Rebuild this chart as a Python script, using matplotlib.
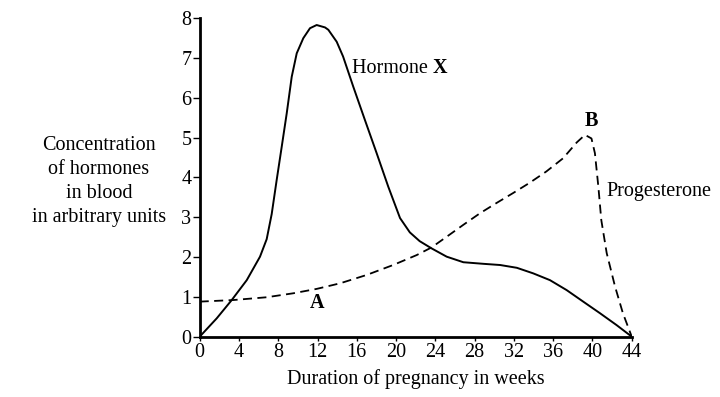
import matplotlib.pyplot as plt

plt.rcParams['font.family'] = ['Liberation Serif', 'DejaVu Serif']

# Hormone X (solid line)
weeks_x = [0, 1.73, 3.26, 4.79, 6.14, 6.82, 7.33, 7.84, 8.35, 8.86, 9.37, 9.88,
           10.55, 11.23, 11.91, 12.76, 13.1, 13.95, 14.6, 15.64, 16.83, 18.02,
           19.2, 20.4, 21.4, 22.4, 23.6, 25.15, 26.85, 28.9, 30.6, 32.3, 33.97,
           35.67, 37.37, 39.06, 40.76, 42.46, 44]
hormone_x = [0, 0.46, 0.92, 1.42, 2.01, 2.45, 3.08, 3.94, 4.77, 5.61, 6.53, 7.12,
             7.5, 7.75, 7.83, 7.77, 7.71, 7.41, 7.04, 6.28, 5.44, 4.61,
             3.77, 2.98, 2.62, 2.4, 2.22, 2.01, 1.87, 1.83, 1.8, 1.73, 1.59,
             1.42, 1.17, 0.88, 0.59, 0.29, 0]

# Progesterone (dashed line)
weeks_p = [0, 3.42, 6.82, 9.53, 11.91, 14.29, 17.0, 19.7, 22.1, 23.6, 25.15,
           26.85, 28.54, 30.24, 31.93, 33.63, 35.3, 37.0, 38.4, 39.24, 39.9,
           40.25, 40.6, 40.9, 41.45, 42.3, 43.1, 44]
progesterone = [0.88, 0.92, 0.99, 1.09, 1.2, 1.34, 1.55, 1.8, 2.05, 2.24, 2.51,
                2.81, 3.1, 3.36, 3.61, 3.87, 4.15, 4.48, 4.88, 5.07, 4.98,
                4.61, 3.77, 2.93, 2.1, 1.26, 0.59, 0]

x_ticks = [0, 4, 8, 12, 16, 20, 24, 28, 32, 36, 40, 44]
y_ticks = [0, 1, 2, 3, 4, 5, 6, 7, 8]

fs = 14.5

fig = plt.figure(figsize=(7.2, 3.97), dpi=100)
ax = fig.add_axes([0.2774, 0.152, 0.6, 0.802])

ax.plot(weeks_x, hormone_x, color='black', lw=1.4, solid_joinstyle='round')
ax.plot(weeks_p, progesterone, color='black', lw=1.3, ls=(0, (5, 3)))

ax.set_xlim(0, 44)
ax.set_ylim(0, 8)
ax.set_xticks(x_ticks)
ax.set_yticks(y_ticks)
ax.tick_params(axis='y', direction='out', length=5, width=1, labelsize=fs, pad=1)
ax.tick_params(axis='x', direction='out', length=3, width=1, labelsize=fs, pad=1.5)
for s in ['top', 'right']:
    ax.spines[s].set_visible(False)
for s in ['left', 'bottom']:
    ax.spines[s].set_linewidth(2)

ax.set_xlabel('Duration of pregnancy in weeks', fontsize=fs, labelpad=5)
fig.text(0.1375, 0.542, 'Concentration\nof hormones\nin blood\nin arbitrary units',
         ha='center', va='center', fontsize=fs, linespacing=1.36)

t = ax.text(15.5, 6.75, 'Hormone ', fontsize=fs, va='center', ha='left')
ax.annotate('X', xy=(1, 0), xycoords=t, va='bottom', ha='left',
            fontsize=fs, fontweight='bold')
ax.text(11.9, 0.85, 'A', fontsize=fs, va='center', ha='center', fontweight='bold')
ax.text(39.9, 5.42, 'B', fontsize=fs, va='center', ha='center', fontweight='bold')
ax.text(41.4, 3.64, 'Progesterone', fontsize=fs, va='center', ha='left', clip_on=False)

fig.savefig('out.png', dpi=100)
